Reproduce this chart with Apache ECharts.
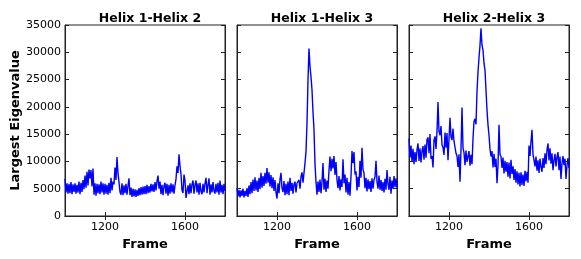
<!DOCTYPE html>
<head>
    <meta charset="utf-8">
    <title>Largest Eigenvalue</title>
</head>
<body style="margin:0">
<div id="main" style="width:581px;height:259px"></div>
<script src="https://cdn.jsdelivr.net/npm/echarts@6/dist/echarts.min.js"></script>
<script type="text/javascript">
    // frames run 1000..1800, one value every 5 frames
    var frameStart = 1000;
    var frameStep = 5;
    var panelTitles = ['Helix 1-Helix 2', 'Helix 1-Helix 3', 'Helix 2-Helix 3'];
    var xTicks = [1200, 1600];

    var helix12 = [
        6800, 4300, 6000, 4100, 5900, 4200, 6200, 4000, 5800, 4400,
        6000, 4100, 5700, 4300, 6300, 4000, 6100, 4400, 6600, 4900,
        7400, 5200, 8100, 5600, 8500, 6900, 8400, 5400, 8700, 3900,
        6000, 3700, 5900, 4200, 5800, 4000, 6300, 4300, 6000, 3900,
        5900, 4100, 5700, 3900, 6100, 4200, 7000, 4700, 6300, 5800,
        8900, 6600, 10800, 7800, 6200, 4400, 3900, 6000, 3800, 5600,
        4200, 5900, 3900, 5500, 6900, 3800, 5200, 3500, 5000, 3600,
        4900, 3500, 4800, 3700, 5100, 3800, 5300, 3900, 5400, 4000,
        5500, 4000, 5700, 4200, 5500, 4300, 5900, 4500, 5800, 4400,
        6200, 4700, 6400, 7400, 5000, 6300, 4000, 5700, 3800, 5500,
        6100, 4100, 5900, 3700, 5700, 4100, 6000, 4300, 5800, 4100,
        5600, 6800, 9100, 7900, 11300, 9200, 7700, 4700, 4200, 7600,
        6500, 3300, 4600, 5600, 4000, 6000, 4200, 5800, 6500, 4100,
        5700, 6500, 4300, 6000, 3900, 6100, 4500, 4000, 5900, 4300,
        6000, 7000, 4200, 5700, 6900, 3900, 5800, 4300, 6200, 4600,
        4100, 5900, 4300, 6100, 3900, 6500, 4300, 5700, 4000, 5900,
        4600
    ];
    var helix13 = [
        5100, 3600, 4800, 3400, 4700, 3700, 5000, 3400, 4600, 3700,
        5100, 3500, 5600, 4000, 6200, 4200, 6700, 4600, 7100, 4700,
        6500, 4400, 7000, 4900, 7900, 5200, 7300, 5500, 7900, 5900,
        8800, 6100, 8000, 5400, 7500, 5100, 7100, 4600, 6600, 4300,
        3200, 6000, 4200, 6700, 7900, 5100, 4400, 6400, 3800, 5900,
        4000, 6300, 3800, 7000, 4600, 6100, 4100, 5800, 6300, 4300,
        6000, 5700, 6600, 5000, 7200, 8000, 6100, 7900, 9700, 11800,
        17000, 24900, 30700, 27400, 25500, 23100, 19000, 15800, 9500, 6200,
        3900, 6300, 4400, 6700, 4200, 6300, 9700, 4800, 6800, 4400,
        6500, 5000, 8400, 10900, 8200, 10500, 8700, 11000, 7500, 9900,
        6600, 5100, 7300, 4700, 6700, 5300, 10400, 6000, 7600, 4300,
        7000, 3900, 6200, 3700, 7300, 11900, 9700, 11700, 7600, 8200,
        4700, 7200, 5300, 10100, 7000, 12500, 8500, 7900, 5100, 7000,
        4500, 6700, 4900, 6400, 4400, 6900, 5000, 6600, 7200, 10100,
        6300, 5000, 7400, 4800, 6600, 4600, 6200, 4300, 6800, 4800,
        8400, 5900, 4800, 7200, 4100, 6500, 5000, 7300, 5300, 6900,
        5200
    ];
    var helix23 = [
        14200, 10700, 12900, 9900, 12300, 9500, 11700, 9900, 12100, 13300,
        10100, 12400, 9800, 11900, 12800, 10300, 13100, 10700, 14000, 14400,
        11500, 15000, 10500, 11000, 8900, 13900, 14600, 12300, 15500, 20900,
        15500, 14800, 16500, 13000, 12600, 11200, 15300, 12500, 15200, 10200,
        10500, 18000, 14500, 13900, 16000, 13700, 13900, 11500, 11000, 9000,
        11300, 6300, 12200, 19900, 12500, 11600, 9300, 12000, 9900, 9700,
        11900, 9200, 11200, 9500, 14200, 17300, 17800, 16800, 22800, 26400,
        29000, 31300, 34400, 31300, 30400, 28000, 26700, 23000, 19400, 16700,
        14800, 12300, 10900, 11900, 8900, 11400, 9000, 10500, 6000, 9300,
        16700, 11300, 10900, 8800, 10700, 7800, 10100, 8100, 9900, 7200,
        9800, 6900, 10300, 7700, 9100, 6600, 8600, 6100, 8200, 5800,
        7900, 5400, 8000, 5700, 7600, 5500, 8300, 6400, 8100, 6100,
        12900, 11000, 13600, 15800, 11300, 11100, 9100, 10900, 8300, 10200,
        7900, 10500, 9000, 8100, 10600, 8800, 11500, 9500, 12100, 13300,
        10200, 12400, 9600, 11500, 8400, 10200, 11400, 9100, 10800, 11700,
        8400, 10900, 6800, 9600, 11000, 9300, 10500, 6800, 9300, 10600,
        8800
    ];

    var panels = [helix12, helix13, helix23];
    var lefts = [65, 237, 409];
    var plotW = 160;

    function toPairs(vals) {
        return vals.map(function (v, i) { return [frameStart + i * frameStep, v]; });
    }
    function plain(v) { return String(v); }

    var font = 'DejaVu Sans';
    var frameColor = '#222';
    var grids = [], xAxes = [], yAxes = [], series = [], titles = [];

    panels.forEach(function (vals, p) {
        grids.push({
            left: lefts[p], top: 25, width: plotW, height: 191,
            show: true, borderColor: frameColor, borderWidth: 1, backgroundColor: '#fff'
        });
        titles.push({
            text: panelTitles[p],
            left: lefts[p] + plotW / 2, top: 7, textAlign: 'center',
            textStyle: { fontFamily: font, fontSize: 12.5, fontWeight: 'bold', color: '#000' }
        });
        // bottom axis with labels
        xAxes.push({
            gridIndex: p, type: 'value', min: 1000, max: 1800, position: 'bottom',
            name: 'Frame', nameLocation: 'middle', nameGap: 19,
            nameTextStyle: { fontFamily: font, fontSize: 13, fontWeight: 'bold', color: '#000' },
            axisLine: { lineStyle: { color: frameColor } },
            axisTick: { inside: true, length: 4, customValues: xTicks, lineStyle: { color: frameColor } },
            axisLabel: { customValues: xTicks, formatter: plain, margin: 6, fontFamily: font, fontSize: 11, color: '#000' },
            splitLine: { show: false }
        });
        // top axis, ticks only
        xAxes.push({
            gridIndex: p, type: 'value', min: 1000, max: 1800, position: 'top',
            axisLine: { lineStyle: { color: frameColor } },
            axisTick: { inside: true, length: 4, customValues: xTicks, lineStyle: { color: frameColor } },
            axisLabel: { show: false },
            splitLine: { show: false }
        });
        yAxes.push({
            gridIndex: p, type: 'value', min: 0, max: 35000, interval: 5000, position: 'left',
            name: p === 0 ? 'Largest Eigenvalue' : '', nameLocation: 'middle', nameGap: 36,
            nameTextStyle: { fontFamily: font, fontSize: 13, fontWeight: 'bold', color: '#000' },
            axisLine: { show: true, lineStyle: { color: frameColor } },
            axisTick: { show: true, inside: true, length: 4, lineStyle: { color: frameColor } },
            axisLabel: { show: p === 0, formatter: plain, margin: 4, fontFamily: font, fontSize: 11, color: '#000' },
            splitLine: { show: false }
        });
        yAxes.push({
            gridIndex: p, type: 'value', min: 0, max: 35000, interval: 5000, position: 'right',
            axisLine: { show: true, lineStyle: { color: frameColor } },
            axisTick: { show: true, inside: true, length: 4, lineStyle: { color: frameColor } },
            axisLabel: { show: false },
            splitLine: { show: false }
        });
        series.push({
            type: 'line',
            xAxisIndex: p * 2, yAxisIndex: p * 2,
            data: toPairs(vals),
            showSymbol: false,
            lineStyle: { color: '#0000ff', width: 1.4 },
            animation: false
        });
    });

    var myChart = echarts.init(document.getElementById('main'));
    myChart.setOption({
        backgroundColor: '#fff',
        animation: false,
        title: titles,
        grid: grids,
        xAxis: xAxes,
        yAxis: yAxes,
        series: series
    });
</script>
</body>
